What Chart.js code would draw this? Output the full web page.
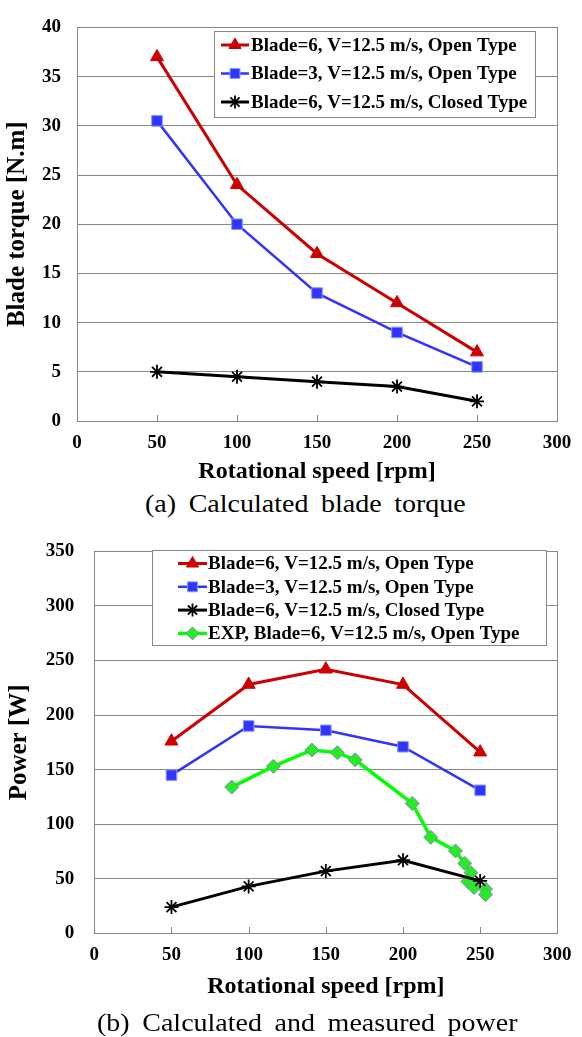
<!DOCTYPE html>
<html><head><meta charset="utf-8">
<script src="https://cdn.jsdelivr.net/npm/chart.js@4"></script>
<style>
html,body{margin:0;padding:0;background:#fff;width:582px;height:1037px;overflow:hidden;position:relative}
.c{position:absolute;left:0}
.cap{position:absolute;font-family:"Liberation Serif","Times New Roman",serif;font-size:25px;line-height:25px;white-space:nowrap;word-spacing:5px;color:#000;transform:scaleX(1.12);transform-origin:0 0}
</style></head><body>
<canvas id="c1" class="c" style="top:0" width="582" height="490"></canvas>
<div class="cap" style="left:145px;top:491px">(a) Calculated blade torque</div>
<canvas id="c2" class="c" style="top:520px" width="582" height="490"></canvas>
<div class="cap" style="left:97px;top:1010px">(b) Calculated and measured power</div>
<script>
// ---------- data ----------
const speeds = [50, 100, 150, 200, 250];
const torqueBlade6Open   = [37, 24, 17, 12, 7];
const torqueBlade3Open   = [30.5, 20, 13, 9, 5.5];
const torqueBlade6Closed = [5, 4.5, 4, 3.5, 2];
const powerBlade6Open    = [176, 228, 242, 228, 166];
const powerBlade3Open    = [145, 190, 186, 171, 131];
const powerBlade6Closed  = [24, 43, 57, 67, 48];
const expSpeeds = [89, 116, 141, 157.5, 169, 206, 218, 234, 240, 244, 242, 246, 253.5, 253.5];
const expPower  = [134, 153, 168, 165.5, 159, 119, 88, 75.5, 64, 55.5, 47.5, 42, 40.5, 35.5];
const labels = [
  'Blade=6, V=12.5 m/s, Open Type',
  'Blade=3, V=12.5 m/s, Open Type',
  'Blade=6, V=12.5 m/s, Closed Type',
  'EXP, Blade=6, V=12.5 m/s, Open Type'
];
const xTitle = 'Rotational speed [rpm]';
const torqueTitle = 'Blade torque [N.m]';
const powerTitle = 'Power [W]';

// ---------- styling ----------
const FONT = '"Liberation Serif","Times New Roman",serif';
Chart.defaults.font.family = FONT;
Chart.defaults.color = '#000';
const GRAY = '#868686';
const pts = (xs, ys) => xs.map((x, i) => ({x: x, y: ys[i]}));

function styleRed(d){ return Object.assign(d,{borderColor:'#cc0000',backgroundColor:'#cc0000',borderWidth:3,pointStyle:'triangle',pointRadius:7.5,pointBackgroundColor:'#cc0000',pointBorderColor:'#cc0000',pointBorderWidth:1}); }
function styleBlue(d){ return Object.assign(d,{borderColor:'#3333ff',backgroundColor:'#3333ff',borderWidth:2.5,pointStyle:'rect',pointRadius:7.5,pointBackgroundColor:'#3333ff',pointBorderColor:'#7f9cff',pointBorderWidth:1}); }
function styleBlack(d){ return Object.assign(d,{borderColor:'#000',backgroundColor:'#000',borderWidth:3,pointStyle:'star',pointRadius:7,pointBackgroundColor:'#000',pointBorderColor:'#000',pointBorderWidth:1.8}); }
function styleGreen(d){ return Object.assign(d,{borderColor:'#00ff00',backgroundColor:'#00ff00',borderWidth:3.5,pointStyle:'rectRot',pointRadius:7,pointBackgroundColor:'#22ee22',pointBorderColor:'#9080b8',pointBorderWidth:1}); }

function makePlugins(leg){
  return [{
    id:'frame',
    beforeDatasetsDraw(chart){
      const a = chart.chartArea, ctx = chart.ctx;
      ctx.save();
      ctx.strokeStyle = GRAY; ctx.lineWidth = 1;
      ctx.strokeRect(Math.round(a.left)+0.5, Math.round(a.top)+0.5, Math.round(a.right-a.left), Math.round(a.bottom-a.top));
      const xs = chart.scales.x;
      ctx.beginPath();
      xs.ticks.forEach(t => {
        const px = Math.round(xs.getPixelForValue(t.value)) + 0.5;
        ctx.moveTo(px, Math.round(a.bottom)); ctx.lineTo(px, Math.round(a.bottom) - 6);
      });
      ctx.stroke();
      ctx.restore();
    }
  },{
    id:'customLegend',
    afterDraw(chart){
      const ctx = chart.ctx;
      ctx.save();
      ctx.fillStyle = '#fff';
      ctx.fillRect(leg.x, leg.y, leg.w, leg.h);
      ctx.strokeStyle = GRAY; ctx.lineWidth = 1;
      ctx.strokeRect(leg.x + 0.5, leg.y + 0.5, leg.w, leg.h);
      chart.data.datasets.forEach((ds, i) => {
        const y = leg.y0 + i * leg.gap;
        ctx.strokeStyle = ds.borderColor; ctx.lineWidth = ds.borderWidth;
        ctx.beginPath(); ctx.moveTo(leg.l0, y); ctx.lineTo(leg.l1, y); ctx.stroke();
        ctx.fillStyle = ds.pointBackgroundColor; ctx.strokeStyle = ds.pointBorderColor; ctx.lineWidth = ds.pointBorderWidth;
        if (Chart.helpers && Chart.helpers.drawPoint) {
          Chart.helpers.drawPoint(ctx, {pointStyle: ds.pointStyle, radius: ds.pointRadius - 0.5, borderWidth: ds.pointBorderWidth, rotation: 0}, (leg.l0 + leg.l1) / 2, y);
        }
        ctx.fillStyle = '#000';
        ctx.font = 'bold 19px ' + FONT;
        ctx.textBaseline = 'middle';
        ctx.textAlign = 'left';
        ctx.fillText(ds.label, leg.tx, y + 1);
      });
      ctx.restore();
    }
  }];
}

function makeChart(id, datasets, yMax, yStep, yTitle, g){
  return new Chart(document.getElementById(id), {
    type: 'line',
    data: { datasets: datasets },
    options: {
      responsive: false, animation: false,
      layout: { padding: { top: g.padTop, right: g.padRight, bottom: 0, left: 0 } },
      plugins: { legend: { display: false }, tooltip: { enabled: false } },
      elements: { line: { tension: 0 } },
      scales: {
        x: {
          type: 'linear', min: 0, max: 300,
          ticks: { stepSize: 50, padding: g.xTickPad, font: { size: 19, weight: 'bold' }, color: '#000', maxRotation: 0 },
          grid: { display: false, drawTicks: false },
          border: { display: true, color: GRAY },
          title: { display: true, text: xTitle, font: { size: 24, weight: 'bold' }, color: '#000', padding: { top: 0, bottom: g.xTitlePad } },
          afterFit(s){ s.height = g.xHeight; }
        },
        y: {
          min: 0, max: yMax,
          ticks: { stepSize: yStep, padding: g.yTickPad, font: { size: 19, weight: 'bold' }, color: '#000' },
          grid: { color: GRAY, lineWidth: 1, drawTicks: false },
          border: { display: true, color: GRAY },
          title: { display: true, text: yTitle, font: { size: 25, weight: 'bold' }, color: '#000', padding: { top: g.yTitlePad, bottom: 0 } },
          afterFit(s){ s.width = g.yWidth; }
        }
      }
    },
    plugins: makePlugins(g.leg)
  });
}

makeChart('c1', [
  styleRed({label: labels[0], data: pts(speeds, torqueBlade6Open)}),
  styleBlue({label: labels[1], data: pts(speeds, torqueBlade3Open)}),
  styleBlack({label: labels[2], data: pts(speeds, torqueBlade6Closed)})
], 40, 5, torqueTitle, {
  padTop: 14, padRight: 25, xHeight: 69, xTickPad: 10.5, xTitlePad: 3.6, yWidth: 77, yTickPad: 16, yTitlePad: 3,
  leg: {x: 214, y: 31, w: 321, h: 86, y0: 45, gap: 28.5, l0: 221, l1: 249, tx: 251}
});

makeChart('c2', [
  styleRed({label: labels[0], data: pts(speeds, powerBlade6Open)}),
  styleBlue({label: labels[1], data: pts(speeds, powerBlade3Open)}),
  styleBlack({label: labels[2], data: pts(speeds, powerBlade6Closed)}),
  styleGreen({label: labels[3], data: pts(expSpeeds, expPower)})
], 350, 50, powerTitle, {
  padTop: 19.5, padRight: 15.7, xHeight: 76.7, xTickPad: 10.4, xTitlePad: 8.6, yWidth: 94.3, yTickPad: 20, yTitlePad: 5,
  leg: {x: 152, y: 30, w: 394, h: 95, y0: 43.5, gap: 23.3, l0: 178, l1: 207, tx: 208}
});
</script>
</body></html>
